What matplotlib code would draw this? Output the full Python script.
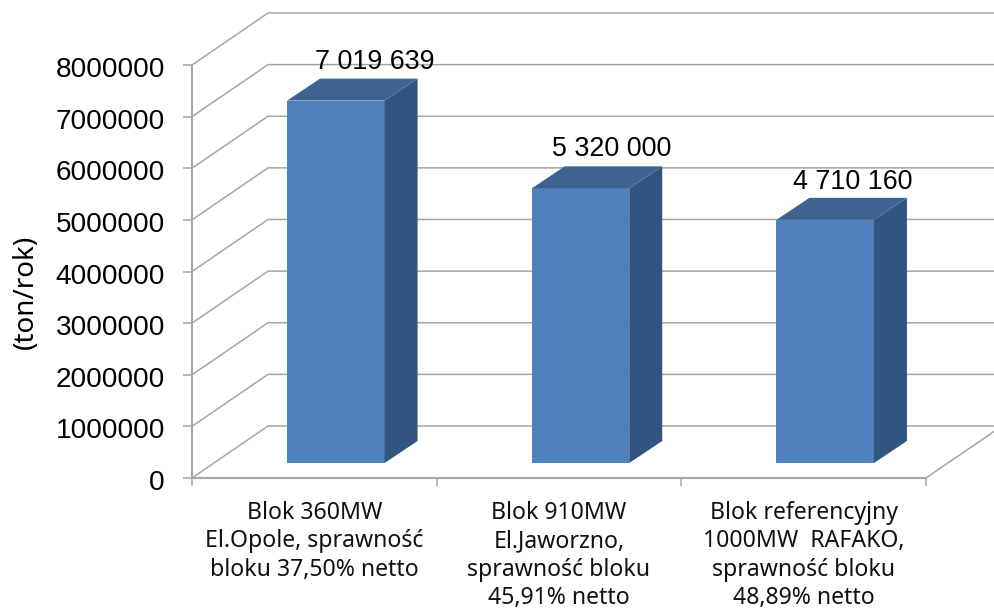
import matplotlib
matplotlib.use("Agg")
import matplotlib.pyplot as plt
from matplotlib.transforms import Affine2D

categories = [
    "Blok 360MW\nEl.Opole, sprawność\nbloku 37,50% netto",
    "Blok 910MW\nEl.Jaworzno,\nsprawność bloku\n45,91% netto",
    "Blok referencyjny\n1000MW  RAFAKO,\nsprawność bloku\n48,89% netto",
]
values = [7019639, 5320000, 4710160]
y_ticks = [0, 1000000, 2000000, 3000000, 4000000, 5000000, 6000000, 7000000, 8000000]
y_label = "(ton/rok)"
label_offsets_px = [(39, 32), (31, 32), (28, 31)]

W, H = 994, 608
LEFT, RIGHT, BOTTOM, TOP = 192, 926, 478, 65
px_x = 3 / (RIGHT - LEFT)
px_y = 8000000 / (BOTTOM - TOP)

GRID = "#A6A6A6"
FRONT = "#4F81BD"
SIDE = "#325480"
ROOF = "#3F6390"

fig = plt.figure(figsize=(W / 100, H / 100), dpi=100, facecolor="white")
ax = fig.add_axes([LEFT / W, 1 - BOTTOM / H, (RIGHT - LEFT) / W, (BOTTOM - TOP) / H])
ax.set_xlim(0, 3)
ax.set_ylim(0, 8000000)
ax.set_facecolor("none")
for s in ("top", "right"):
    ax.spines[s].set_visible(False)
for s in ("left", "bottom"):
    ax.spines[s].set_color(GRID)
    ax.spines[s].set_linewidth(1.5)

wall_dx, wall_dy = 76 * px_x, 52 * px_y
lw = 1.1
for v in y_ticks:
    ax.plot([0, wall_dx, 3 + wall_dx], [v, v + wall_dy, v + wall_dy], color=GRID, lw=lw,
            clip_on=False, zorder=1)
ax.plot([3, 3 + wall_dx], [0, wall_dy], color=GRID, lw=lw, clip_on=False, zorder=1)

bar_w = 97.5 * px_x
dep_x, dep_y = 33 * px_x, 22 * px_y
off_x, off_y = (wall_dx - dep_x) / 2, (wall_dy - dep_y) / 2
for i, v in enumerate(values):
    cx = i + 0.5 + off_x
    x0, x1 = cx - bar_w / 2, cx + bar_w / 2
    y0, y1 = off_y, off_y + v
    ax.bar(cx, v, width=bar_w, bottom=y0, color=FRONT, edgecolor="none", zorder=3, clip_on=False)
    ax.fill([x1, x1 + dep_x, x1 + dep_x, x1], [y0, y0 + dep_y, y1 + dep_y, y1],
            color=SIDE, lw=0, zorder=3, clip_on=False)
    ax.fill([x0, x1, x1 + dep_x, x0 + dep_x], [y1, y1, y1 + dep_y, y1 + dep_y],
            color=ROOF, lw=0, zorder=3, clip_on=False)
    ox, oy = label_offsets_px[i]
    ax.annotate(f"{v:,}".replace(",", " "), (cx, y1), xytext=(ox * 0.72, oy * 0.72),
                textcoords="offset points", ha="center", va="baseline",
                fontsize=19.4, family="Liberation Sans", color="black", zorder=5,
                annotation_clip=False)

ax.set_yticks(y_ticks)
ax.set_yticklabels([str(v) for v in y_ticks], fontsize=20.2, family="Liberation Sans", color="black")
ax.tick_params(axis="y", length=6.5, width=1.1, color=GRID, pad=13)
for lab in ax.get_yticklabels():
    lab.set_transform(lab.get_transform() + Affine2D().translate(0, -2))

ax.set_xticks([0, 1, 2, 3])
ax.set_xticklabels([])
ax.set_xticks([0.5, 1.5, 2.5], minor=True)
ax.set_xticklabels(categories, minor=True, fontsize=16.6, family="Noto Sans", color="#111111",
                   linespacing=1.24, va="top")
ax.tick_params(axis="x", which="major", length=5.5, width=1.1, color=GRID)
ax.tick_params(axis="x", which="minor", length=0, pad=16.5)

fig.text(26 / W, 1 - 292 / H, y_label, rotation=90, ha="center", va="center",
         fontsize=20, family="Noto Sans", color="black")

fig.savefig("out.png", dpi=100, facecolor="white")
